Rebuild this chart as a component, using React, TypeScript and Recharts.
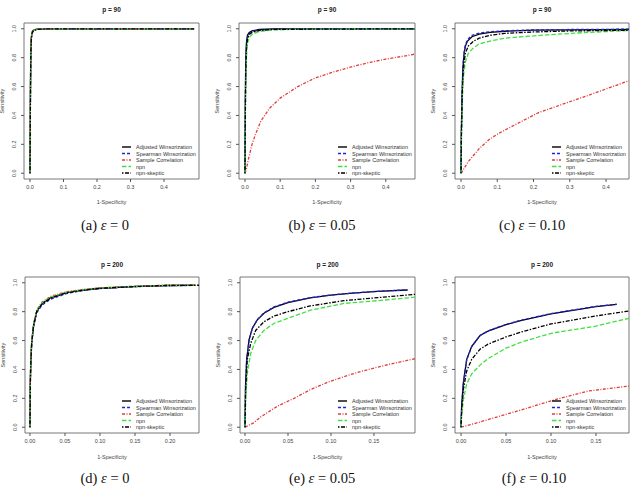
import React from 'react';
import { LineChart, Line, XAxis, YAxis, ReferenceArea, Legend } from 'recharts';

type Pt = [number, number];

// ROC curves as [1-specificity, sensitivity] pairs

// p = 90, eps = 0
const a_adjusted: Pt[] = [[0, 0], [0.0008, 0.35], [0.0016, 0.65], [0.0025, 0.85], [0.004, 0.94], [0.006, 0.975], [0.01, 0.99], [0.02, 0.997], [0.05, 1], [0.49, 1]];
const a_spearman: Pt[] = [[0, 0], [0.0008, 0.33], [0.0016, 0.62], [0.0025, 0.83], [0.004, 0.93], [0.006, 0.97], [0.01, 0.988], [0.02, 0.996], [0.05, 1], [0.49, 1]];
const a_sample: Pt[] = [[0, 0], [0.0008, 0.36], [0.0016, 0.66], [0.0025, 0.86], [0.004, 0.945], [0.006, 0.978], [0.01, 0.991], [0.02, 0.997], [0.05, 1], [0.49, 1]];
const a_npn: Pt[] = [[0, 0], [0.0008, 0.34], [0.0016, 0.63], [0.0025, 0.84], [0.004, 0.935], [0.006, 0.972], [0.01, 0.989], [0.02, 0.996], [0.05, 1], [0.49, 1]];
const a_skeptic: Pt[] = [[0, 0], [0.0008, 0.32], [0.0016, 0.6], [0.0025, 0.82], [0.004, 0.925], [0.006, 0.968], [0.01, 0.987], [0.02, 0.995], [0.05, 1], [0.49, 1]];

// p = 90, eps = 0.05
const b_adjusted: Pt[] = [[0, 0], [0.001, 0.5], [0.002, 0.75], [0.004, 0.9], [0.007, 0.955], [0.012, 0.975], [0.02, 0.985], [0.04, 0.995], [0.08, 1], [0.483, 1]];
const b_spearman: Pt[] = [[0, 0], [0.001, 0.45], [0.002, 0.7], [0.004, 0.87], [0.007, 0.94], [0.012, 0.965], [0.02, 0.98], [0.04, 0.99], [0.1, 0.998], [0.483, 1]];
const b_sample: Pt[] = [[0, 0], [0.004, 0.03], [0.01, 0.1], [0.02, 0.2], [0.03, 0.27], [0.045, 0.36], [0.07, 0.45], [0.1, 0.52], [0.15, 0.6], [0.2, 0.66], [0.25, 0.7], [0.3, 0.735], [0.35, 0.765], [0.4, 0.79], [0.45, 0.81], [0.483, 0.825]];
const b_npn: Pt[] = [[0, 0], [0.001, 0.35], [0.002, 0.6], [0.004, 0.8], [0.007, 0.9], [0.012, 0.94], [0.02, 0.96], [0.04, 0.98], [0.07, 0.99], [0.15, 0.997], [0.483, 1]];
const b_skeptic: Pt[] = [[0, 0], [0.001, 0.4], [0.002, 0.68], [0.004, 0.86], [0.007, 0.93], [0.012, 0.96], [0.02, 0.975], [0.04, 0.988], [0.08, 0.996], [0.483, 1]];

// p = 90, eps = 0.10
const c_adjusted: Pt[] = [[0, 0], [0.001, 0.3], [0.003, 0.55], [0.005, 0.72], [0.008, 0.82], [0.012, 0.88], [0.018, 0.915], [0.03, 0.945], [0.05, 0.963], [0.08, 0.975], [0.12, 0.983], [0.2, 0.99], [0.3, 0.993], [0.4634, 0.995]];
const c_spearman: Pt[] = [[0, 0], [0.001, 0.28], [0.003, 0.55], [0.005, 0.73], [0.008, 0.83], [0.012, 0.89], [0.018, 0.925], [0.03, 0.955], [0.05, 0.97], [0.08, 0.98], [0.12, 0.986], [0.2, 0.992], [0.3, 0.995], [0.4634, 0.997]];
const c_sample: Pt[] = [[0, 0], [0.003, 0.01], [0.01, 0.04], [0.02, 0.08], [0.03, 0.11], [0.05, 0.17], [0.076, 0.23], [0.1, 0.27], [0.122, 0.3], [0.168, 0.36], [0.214, 0.42], [0.26, 0.46], [0.306, 0.5], [0.352, 0.54], [0.407, 0.59], [0.4634, 0.64]];
const c_npn: Pt[] = [[0, 0], [0.001, 0.2], [0.003, 0.45], [0.005, 0.6], [0.008, 0.7], [0.012, 0.77], [0.02, 0.83], [0.035, 0.87], [0.05, 0.895], [0.08, 0.915], [0.12, 0.935], [0.17, 0.945], [0.25, 0.96], [0.35, 0.975], [0.4634, 0.988]];
const c_skeptic: Pt[] = [[0, 0], [0.001, 0.25], [0.003, 0.5], [0.005, 0.66], [0.008, 0.76], [0.012, 0.83], [0.02, 0.88], [0.035, 0.915], [0.05, 0.935], [0.08, 0.955], [0.12, 0.968], [0.2, 0.978], [0.3, 0.985], [0.4634, 0.99]];

// p = 200, eps = 0
const d_adjusted: Pt[] = [[0, 0], [0.0005, 0.3], [0.001, 0.42], [0.0024, 0.58], [0.005, 0.7], [0.0095, 0.8], [0.017, 0.855], [0.029, 0.895], [0.052, 0.932], [0.076, 0.95], [0.1, 0.962], [0.148, 0.974], [0.195, 0.981], [0.235, 0.983]];
const d_spearman: Pt[] = [[0, 0], [0.0005, 0.29], [0.001, 0.41], [0.0024, 0.57], [0.005, 0.69], [0.0095, 0.79], [0.017, 0.845], [0.029, 0.885], [0.052, 0.925], [0.076, 0.947], [0.1, 0.96], [0.148, 0.973], [0.195, 0.98], [0.235, 0.982]];
const d_sample: Pt[] = [[0, 0], [0.0005, 0.31], [0.001, 0.43], [0.0024, 0.59], [0.005, 0.71], [0.0095, 0.81], [0.017, 0.865], [0.029, 0.905], [0.052, 0.938], [0.076, 0.954], [0.1, 0.965], [0.148, 0.976], [0.195, 0.983], [0.238, 0.985]];
const d_npn: Pt[] = [[0, 0], [0.0005, 0.3], [0.001, 0.425], [0.0024, 0.585], [0.005, 0.705], [0.0095, 0.805], [0.017, 0.86], [0.029, 0.9], [0.052, 0.935], [0.076, 0.952], [0.1, 0.963], [0.148, 0.975], [0.195, 0.982], [0.236, 0.984]];
const d_skeptic: Pt[] = [[0, 0], [0.0005, 0.3], [0.001, 0.42], [0.0024, 0.58], [0.005, 0.7], [0.0095, 0.8], [0.017, 0.852], [0.029, 0.892], [0.052, 0.93], [0.076, 0.949], [0.1, 0.961], [0.148, 0.974], [0.195, 0.981], [0.2414, 0.983]];

// p = 200, eps = 0.05
const e_adjusted: Pt[] = [[0, 0], [0.0006, 0.28], [0.0019, 0.467], [0.0047, 0.605], [0.0085, 0.685], [0.0143, 0.743], [0.0221, 0.789], [0.0337, 0.83], [0.05, 0.862], [0.076, 0.895], [0.1, 0.915], [0.125, 0.928], [0.154, 0.94], [0.189, 0.95]];
const e_spearman: Pt[] = [[0, 0], [0.0006, 0.27], [0.0019, 0.46], [0.0047, 0.6], [0.0085, 0.683], [0.0143, 0.745], [0.0221, 0.792], [0.0337, 0.833], [0.05, 0.866], [0.076, 0.897], [0.1, 0.916], [0.125, 0.929], [0.154, 0.941], [0.189, 0.951]];
const e_sample: Pt[] = [[0, 0], [0.01, 0.03], [0.018, 0.07], [0.0376, 0.145], [0.057, 0.2], [0.076, 0.26], [0.0957, 0.31], [0.115, 0.35], [0.1345, 0.386], [0.154, 0.416], [0.175, 0.445], [0.1977, 0.474]];
const e_npn: Pt[] = [[0, 0], [0.0008, 0.2], [0.0027, 0.375], [0.0066, 0.51], [0.0124, 0.6], [0.022, 0.67], [0.034, 0.72], [0.05, 0.754], [0.076, 0.81], [0.115, 0.857], [0.154, 0.876], [0.1977, 0.9]];
const e_skeptic: Pt[] = [[0, 0], [0.0008, 0.26], [0.0027, 0.47], [0.0066, 0.58], [0.0124, 0.67], [0.022, 0.73], [0.034, 0.77], [0.05, 0.8], [0.076, 0.84], [0.115, 0.876], [0.154, 0.897], [0.1977, 0.92]];

// p = 200, eps = 0.10
const f_adjusted: Pt[] = [[0, 0], [0.0007, 0.15], [0.0026, 0.31], [0.0063, 0.47], [0.0119, 0.56], [0.0211, 0.635], [0.03, 0.665], [0.05, 0.71], [0.0674, 0.74], [0.1, 0.785], [0.15, 0.835], [0.173, 0.85]];
const f_spearman: Pt[] = [[0, 0], [0.0007, 0.14], [0.0026, 0.3], [0.0063, 0.465], [0.0119, 0.558], [0.0211, 0.635], [0.03, 0.667], [0.05, 0.712], [0.0674, 0.742], [0.1, 0.787], [0.15, 0.837], [0.173, 0.852]];
const f_sample: Pt[] = [[0, 0], [0.015, 0.025], [0.03, 0.053], [0.067, 0.12], [0.104, 0.19], [0.141, 0.25], [0.1867, 0.285]];
const f_npn: Pt[] = [[0, 0], [0.0007, 0.08], [0.0026, 0.19], [0.0063, 0.3], [0.0119, 0.37], [0.0211, 0.43], [0.03, 0.475], [0.05, 0.547], [0.0674, 0.59], [0.1, 0.65], [0.15, 0.7], [0.1867, 0.754]];
const f_skeptic: Pt[] = [[0, 0], [0.0007, 0.12], [0.0026, 0.26], [0.0063, 0.39], [0.0119, 0.47], [0.0211, 0.54], [0.03, 0.575], [0.05, 0.625], [0.0674, 0.66], [0.1, 0.715], [0.15, 0.77], [0.1867, 0.805]];

const SERIES_NAMES = ['Adjusted Winsorization', 'Spearman Winsorization', 'Sample Correlation', 'npn', 'npn-skeptic'];

const SERIES_STYLE = [
  { stroke: '#000000', dash: undefined },
  { stroke: '#2222d8', dash: '3 2' },
  { stroke: '#e23c3c', dash: '3 1.5 1 1.5' },
  { stroke: '#3fe03f', dash: '4.5 2' },
  { stroke: '#000000', dash: '1.5 1.5 4 1.5' },
];

const Y_DOMAIN: [number, number] = [-0.04, 1.04];
const Y_TICKS = [0, 0.2, 0.4, 0.6, 0.8, 1.0];
const X_TICKS_WIDE = [0, 0.1, 0.2, 0.3, 0.4];
const X_TICKS_D = [0, 0.05, 0.1, 0.15, 0.2];
const X_TICKS_EF = [0, 0.05, 0.1, 0.15];

// box = [left, top, right, bottom] of the plot frame in page pixels
const PANELS = [
  { title: 'p = 90', tag: '(a)', eps: '0', box: [24, 23, 199, 179], xDomain: [-0.0179, 0.5045], xTicks: X_TICKS_WIDE, digits: 1, capX: 105, curves: [a_adjusted, a_spearman, a_sample, a_npn, a_skeptic] },
  { title: 'p = 90', tag: '(b)', eps: '0.05', box: [239, 23, 415, 179], xDomain: [-0.017, 0.483], xTicks: X_TICKS_WIDE, digits: 1, capX: 322, curves: [b_adjusted, b_spearman, b_sample, b_npn, b_skeptic] },
  { title: 'p = 90', tag: '(c)', eps: '0.10', box: [455, 23, 629, 179], xDomain: [-0.0166, 0.4634], xTicks: X_TICKS_WIDE, digits: 1, capX: 532, curves: [c_adjusted, c_spearman, c_sample, c_npn, c_skeptic] },
  { title: 'p = 200', tag: '(d)', eps: '0', box: [25, 277, 199, 433], xDomain: [-0.0071, 0.2414], xTicks: X_TICKS_D, digits: 2, capX: 105, curves: [d_adjusted, d_spearman, d_sample, d_npn, d_skeptic] },
  { title: 'p = 200', tag: '(e)', eps: '0.05', box: [240, 277, 415, 433], xDomain: [-0.0058, 0.1977], xTicks: X_TICKS_EF, digits: 2, capX: 322, curves: [e_adjusted, e_spearman, e_sample, e_npn, e_skeptic] },
  { title: 'p = 200', tag: '(f)', eps: '0.10', box: [455, 277, 629, 433], xDomain: [-0.0067, 0.1867], xTicks: X_TICKS_EF, digits: 2, capX: 534, curves: [f_adjusted, f_spearman, f_sample, f_npn, f_skeptic] },
];

const SANS = '"Liberation Sans", Arial, sans-serif';
const SERIF = '"Liberation Serif", "DejaVu Serif", serif';
const TEXT = '#444';

const toRows = (pts: Pt[]) => pts.map(([x, y]) => ({ x, y }));

// R-style y tick labels, written parallel to the axis
function YTick(props: any) {
  const { x, y, payload } = props;
  const tx = x - 3;
  return (
    <text x={tx} y={y} transform={`rotate(-90 ${tx} ${y})`} textAnchor="middle" fontSize={5.5} fill={TEXT} fontFamily={SANS}>
      {payload.value.toFixed(1)}
    </text>
  );
}

function LegendBox() {
  return (
    <svg width={82} height={36} style={{ display: 'block', overflow: 'visible' }}>
      {SERIES_NAMES.map((name, i) => {
        const y = 3 + i * 6.5;
        const s = SERIES_STYLE[i];
        return (
          <g key={name}>
            <line x1={0} x2={9} y1={y} y2={y} stroke={s.stroke} strokeWidth={1.4} strokeDasharray={s.dash} />
            <text x={14} y={y} dominantBaseline="central" fontSize={5.5} fill="#333" fontFamily={SANS}>{name}</text>
          </g>
        );
      })}
    </svg>
  );
}

function Panel({ cfg }: { cfg: (typeof PANELS)[number] }) {
  const [L, T, R, B] = cfg.box;
  const left = L - 24;
  const top = T - 4;
  const width = R - L + 28;
  const height = B - T + 18;
  const rowTop = T < 200;
  const titleY = rowTop ? 10 : 265;
  const xLabY = rowTop ? 202 : 457;
  const capY = rowTop ? 225 : 478;
  const cx = (L + R) / 2;
  const cy = (T + B) / 2;

  return (
    <>
      <div style={{ position: 'absolute', left, top, width, height }}>
        <LineChart width={width} height={height} margin={{ top: 4, right: 4, left: 0, bottom: 0 }}>
          <XAxis
            type="number"
            dataKey="x"
            domain={cfg.xDomain}
            allowDataOverflow
            ticks={cfg.xTicks}
            interval={0}
            height={14}
            axisLine={false}
            tickSize={3}
            tickMargin={3}
            tickLine={{ stroke: '#555' }}
            tick={{ fontSize: 5.5, fill: TEXT, fontFamily: SANS }}
            tickFormatter={(v: number) => v.toFixed(cfg.digits)}
          />
          <YAxis
            type="number"
            dataKey="y"
            domain={Y_DOMAIN}
            allowDataOverflow
            ticks={Y_TICKS}
            interval={0}
            width={24}
            axisLine={false}
            tickSize={3}
            tickLine={{ stroke: '#555' }}
            tick={(p: any) => <YTick {...p} />}
          />
          <ReferenceArea x1={cfg.xDomain[0]} x2={cfg.xDomain[1]} y1={Y_DOMAIN[0]} y2={Y_DOMAIN[1]} fill="none" stroke="#6a6a6a" strokeWidth={0.9} ifOverflow="visible" />
          {cfg.curves.map((c, i) => (
            <Line
              key={SERIES_NAMES[i]}
              name={SERIES_NAMES[i]}
              data={toRows(c)}
              dataKey="y"
              type="linear"
              dot={false}
              activeDot={false}
              stroke={SERIES_STYLE[i].stroke}
              strokeDasharray={SERIES_STYLE[i].dash}
              strokeWidth={1.3}
              isAnimationActive={false}
            />
          ))}
          <Legend
            layout="vertical"
            align="center"
            verticalAlign="middle"
            content={() => <LegendBox />}
            wrapperStyle={{ left: R - 77 - left, top: B - 35 - top, width: 82, height: 36 }}
          />
        </LineChart>
      </div>
      <div style={{ position: 'absolute', left: cx - 40, top: titleY - 5, width: 80, lineHeight: '10px', textAlign: 'center', fontFamily: SANS, fontSize: 6.5, fontWeight: 'bold', color: '#222' }}>
        {cfg.title}
      </div>
      <div style={{ position: 'absolute', left: cx - 40, top: xLabY - 5, width: 80, lineHeight: '10px', textAlign: 'center', fontFamily: SANS, fontSize: 5.5, color: TEXT }}>
        1-Specificity
      </div>
      <div style={{ position: 'absolute', left: L - 22.5 - 40, top: cy - 5, width: 80, lineHeight: '10px', textAlign: 'center', fontFamily: SANS, fontSize: 5.5, color: TEXT, transform: 'rotate(-90deg)' }}>
        Sensitivity
      </div>
      <div style={{ position: 'absolute', left: cfg.capX - 60, top: capY - 10, width: 120, lineHeight: '20px', textAlign: 'center', fontFamily: SERIF, fontSize: 14.5, color: '#111', whiteSpace: 'nowrap' }}>
        {cfg.tag} <i>ε</i> = {cfg.eps}
      </div>
    </>
  );
}

export default function App() {
  return (
    <div style={{ position: 'absolute', left: 0, top: 0, width: 633, height: 487, background: '#fff', overflow: 'hidden' }}>
      {PANELS.map((p) => (
        <Panel key={p.tag} cfg={p} />
      ))}
    </div>
  );
}
